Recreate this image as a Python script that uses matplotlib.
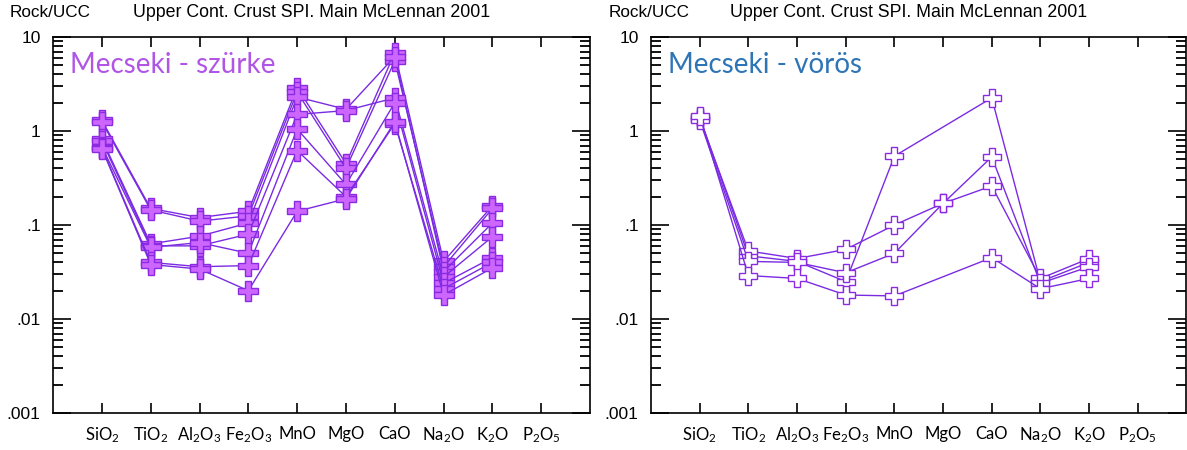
import numpy as np
import matplotlib
matplotlib.use('Agg')
import matplotlib.pyplot as plt
from matplotlib.ticker import LogLocator, FixedLocator, NullFormatter

plt.rcParams['mathtext.fontset'] = 'custom'
plt.rcParams['mathtext.rm'] = 'Lato'
plt.rcParams['mathtext.it'] = 'Lato:italic'
plt.rcParams['mathtext.bf'] = 'Lato:bold'

oxides = ['SiO$_2$', 'TiO$_2$', 'Al$_2$O$_3$', 'Fe$_2$O$_3$', 'MnO',
          'MgO', 'CaO', 'Na$_2$O', 'K$_2$O', 'P$_2$O$_5$']

# Rock/UCC ratios, order: SiO2 TiO2 Al2O3 Fe2O3 MnO MgO CaO Na2O K2O (no P2O5 data)
szurke_1 = [1.30, 0.150, 0.120, 0.140, 2.90, 0.45, 6.8, 0.041, 0.160]
szurke_2 = [1.25, 0.145, 0.110, 0.125, 2.60, 0.40, 5.6, 0.036, 0.150]
szurke_3 = [0.82, 0.063, 0.076, 0.105, 2.30, 1.70, 6.2, 0.032, 0.105]
szurke_4 = [0.78, 0.060, 0.060, 0.080, 1.50, 1.65, 2.25, 0.028, 0.075]
szurke_5 = [0.68, 0.058, 0.065, 0.050, 1.05, 0.27, 2.0, 0.024, 0.045]
szurke_6 = [0.66, 0.040, 0.036, 0.037, 0.62, 0.20, 1.2, 0.021, 0.040]
szurke_7 = [0.65, 0.038, 0.034, 0.020, 0.14, 0.19, 1.25, 0.018, 0.035]
szurke = [szurke_1, szurke_2, szurke_3, szurke_4, szurke_5, szurke_6, szurke_7]

voros_1 = [1.40, 0.047, 0.041, 0.025, 0.54, np.nan, 2.25, 0.025, 0.040]
voros_2 = [1.35, 0.053, 0.044, 0.055, 0.10, 0.17, 0.26, 0.027, 0.044]
voros_3 = [1.30, 0.041, 0.040, 0.031, 0.050, 0.17, 0.53, 0.024, 0.036]
voros_4 = [1.45, 0.029, 0.027, 0.018, 0.0176, np.nan, 0.045, 0.021, 0.027]
voros = [voros_1, voros_2, voros_3, voros_4]

line_col = '#7a2be2'
edge_col = '#8a2be2'


def spider(ax, samples, face, msize, label, label_col):
    for s in samples:
        y = np.array(s, dtype=float)
        x = np.arange(1, len(y) + 1)
        ok = ~np.isnan(y)
        ax.plot(x[ok], y[ok], '-', color=line_col, lw=1.0, marker='P',
                ms=msize, mfc=face, mec=edge_col, mew=1.0)
    ax.set_yscale('log')
    ax.set_ylim(0.001, 10)
    ax.set_xlim(0, 11)
    ax.xaxis.set_major_locator(FixedLocator(range(1, 11)))
    ax.set_xticklabels(oxides, fontsize=12, family='Lato')
    ax.yaxis.set_minor_locator(LogLocator(base=10, subs=np.arange(2, 10)))
    ax.yaxis.set_minor_formatter(NullFormatter())
    ax.set_yticks([0.001, 0.01, 0.1, 1, 10])
    ax.set_yticklabels(['.001', '.01', '.1', '1', '10'], fontsize=12.5,
                       family='Liberation Sans')
    ax.tick_params(axis='x', which='major', direction='in', top=True,
                   length=7, width=1.2, pad=9)
    ax.tick_params(axis='y', which='major', direction='in', right=True,
                   length=13, width=1.2, pad=9)
    ax.tick_params(axis='y', which='minor', direction='in', right=True,
                   length=7, width=1.3)
    for sp in ax.spines.values():
        sp.set_linewidth(1.2)
    ax.text(-0.080, 1.066, 'Rock/UCC', transform=ax.transAxes, fontsize=12.3,
            family='Liberation Sans', va='center', ha='left')
    ax.text(0.148, 1.066, 'Upper Cont. Crust SPI. Main McLennan 2001',
            transform=ax.transAxes, fontsize=12.8, family='Liberation Sans',
            va='center', ha='left')
    ax.text(0.032, 0.926, label, transform=ax.transAxes, fontsize=20,
            family='Lato', color=label_col, va='center', ha='left')


fig = plt.figure(figsize=(11.87, 4.5), dpi=100)
ax1 = fig.add_axes([0.0447, 0.0822, 0.4524, 0.8356])
ax2 = fig.add_axes([0.5485, 0.0822, 0.4510, 0.8356])

spider(ax1, szurke, '#cc66ff', 14, 'Mecseki - szürke', '#b055e6')
spider(ax2, voros, 'white', 12.5, 'Mecseki - vörös', '#2e75b6')

fig.savefig('out.png', dpi=100)
